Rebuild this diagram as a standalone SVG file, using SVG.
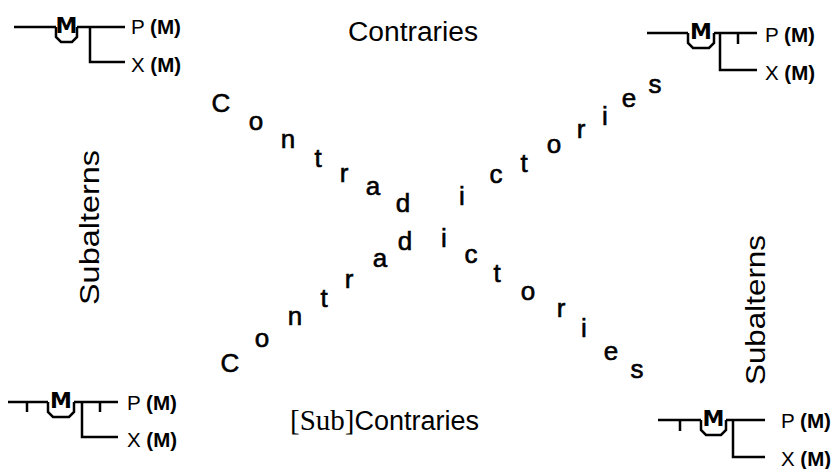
<svg xmlns="http://www.w3.org/2000/svg" width="837" height="469" viewBox="0 0 837 469">
<style>
.ln{fill:none;stroke:#000;stroke-width:2.5;stroke-linejoin:miter}
.lbl{font-family:"Liberation Sans",Arial,sans-serif;font-size:27px;fill:#000}
.pl{font-family:"Liberation Sans",Arial,sans-serif;font-size:21px;fill:#000}
.blob{font-weight:bold}
.nb{font-family:"DejaVu Sans",sans-serif;font-weight:bold;font-size:22px;fill:#000;text-anchor:middle}
.lt{font-family:"Liberation Sans",Arial,sans-serif;font-size:26px;fill:#000;text-anchor:middle;stroke:#000;stroke-width:0.6}
</style>
<rect width="837" height="469" fill="#fff"/>
<g id="connectors">
<path class="ln" d="M14 27H56M77 27H125M90 27V62H125"/>
<path class="ln" d="M647 33H688M714 33H757M738 33V44M720 33V70H757"/>
<path class="ln" d="M8 402H48M74 402H118M27 402V412M100 402V412M82 402V437H118"/>
<path class="ln" d="M658 420H701M726 420H765M680 420V431M733 420V457H765"/>
</g>
<g id="node-tl">
<path class="ln" d="M56 27V37L61 42H72L77 37V27"/>
<text class="nb" x="66.5" y="33">M</text>
<text class="pl" x="131" y="34" textLength="50" lengthAdjust="spacingAndGlyphs">P <tspan class="blob">(M)</tspan></text>
<text class="pl" x="131" y="72" textLength="50" lengthAdjust="spacingAndGlyphs">X <tspan class="blob">(M)</tspan></text>
</g>
<g id="node-tr">
<path class="ln" d="M688 33V43L693 48H709L714 43V33"/>
<text class="nb" x="701" y="39">M</text>
<text class="pl" x="765" y="42" textLength="50" lengthAdjust="spacingAndGlyphs">P <tspan class="blob">(M)</tspan></text>
<text class="pl" x="765" y="80" textLength="50" lengthAdjust="spacingAndGlyphs">X <tspan class="blob">(M)</tspan></text>
</g>
<g id="node-bl">
<path class="ln" d="M48 402V412L53 417H69L74 412V402"/>
<text class="nb" x="61" y="408">M</text>
<text class="pl" x="127" y="410" textLength="50" lengthAdjust="spacingAndGlyphs">P <tspan class="blob">(M)</tspan></text>
<text class="pl" x="127" y="447" textLength="50" lengthAdjust="spacingAndGlyphs">X <tspan class="blob">(M)</tspan></text>
</g>
<g id="node-br">
<path class="ln" d="M701 420V430L706 435H721L726 430V420"/>
<text class="nb" x="713.5" y="426">M</text>
<text class="pl" x="781" y="428" textLength="50" lengthAdjust="spacingAndGlyphs">P <tspan class="blob">(M)</tspan></text>
<text class="pl" x="781" y="466" textLength="50" lengthAdjust="spacingAndGlyphs">X <tspan class="blob">(M)</tspan></text>
</g>
<g id="contraries">
<text class="lbl" x="348" y="41" textLength="130" lengthAdjust="spacingAndGlyphs">Contraries</text>
</g>
<g id="subcontraries">
<text class="lbl" x="290" y="430"><tspan font-family="'Liberation Serif',serif" font-size="29">[Sub]</tspan>Contraries</text>
</g>
<g id="subalterns-left">
<text class="lbl" transform="translate(99 305) rotate(-90)" textLength="155" lengthAdjust="spacingAndGlyphs">Subalterns</text>
</g>
<g id="subalterns-right">
<text class="lbl" transform="translate(765 385) rotate(-90)" textLength="150" lengthAdjust="spacingAndGlyphs">Subalterns</text>
</g>
<g id="contradictories-down" class="lt">
<text x="221" y="112">C</text><text x="256" y="130">o</text><text x="288" y="148">n</text><text x="318" y="167">t</text><text x="344" y="182">r</text><text x="373" y="195">a</text><text x="403" y="212">d</text><text x="444" y="247">i</text><text x="471" y="263">c</text><text x="497" y="282">t</text><text x="528" y="300">o</text><text x="561" y="317">r</text><text x="584" y="337">i</text><text x="611" y="360">e</text><text x="637" y="378">s</text>
</g>
<g id="contradictories-up" class="lt">
<text x="230" y="372">C</text><text x="262" y="347">o</text><text x="295" y="325">n</text><text x="324" y="307">t</text><text x="349" y="288">r</text><text x="380" y="267">a</text><text x="405" y="250">d</text><text x="462" y="205">i</text><text x="496" y="183">c</text><text x="524" y="172">t</text><text x="554" y="153">o</text><text x="581" y="138">r</text><text x="605" y="125">i</text><text x="629" y="107">e</text><text x="655" y="93">s</text>
</g>
</svg>
